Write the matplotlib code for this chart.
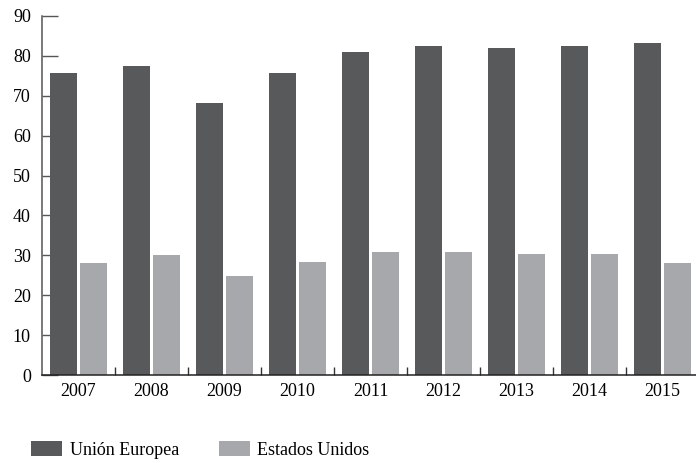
import numpy as np
import matplotlib
matplotlib.use("Agg")
import matplotlib.pyplot as plt

# datos
anios = ["2007", "2008", "2009", "2010", "2011", "2012", "2013", "2014", "2015"]
union_europea = [75.7, 77.5, 68.2, 75.7, 81.0, 82.5, 82.0, 82.5, 83.2]
estados_unidos = [28.0, 30.0, 24.8, 28.3, 30.8, 30.8, 30.3, 30.3, 28.0]

plt.rcParams["font.family"] = ["Liberation Serif", "DejaVu Serif"]

fig = plt.figure(figsize=(6.96, 4.63), dpi=100)
ax = fig.add_axes([42 / 696, 88 / 463, 657 / 696, 359 / 463])

x = np.arange(len(anios))
ancho = 27 / 73
desp = 15 / 73
ax.bar(x - desp, union_europea, ancho, color="#58595b", label="Unión Europea", zorder=1)
ax.bar(x + desp, estados_unidos, ancho, color="#a7a8ab", label="Estados Unidos", zorder=1)

ax.set_xlim(-0.5, 8.5)
ax.set_ylim(0, 90)
ax.set_yticks(range(0, 91, 10))
ax.set_axisbelow(True)

# ticks del eje x en los limites entre grupos, etiquetas centradas
ax.set_xticks(x[:-1] + 0.5)
ax.set_xticklabels([])
ax.set_xticks(x, minor=True)
ax.set_xticklabels(anios, minor=True)
ax.tick_params(axis="x", which="major", direction="in", length=6, width=1, color="#333333")
ax.tick_params(axis="x", which="minor", length=0, pad=6, labelsize=13)
ax.tick_params(axis="y", direction="in", length=11.5, width=1, color="#555555",
               pad=8, labelsize=13)

for s in ["top", "right"]:
    ax.spines[s].set_visible(False)
ax.spines["left"].set_color("#555555")
ax.spines["left"].set_linewidth(1.1)
ax.spines["bottom"].set_color("#222222")
ax.spines["bottom"].set_linewidth(1.1)

leg = ax.legend(loc="center left", bbox_to_anchor=(24 / 696, 13 / 463),
                bbox_transform=fig.transFigure, ncol=2, frameon=False,
                fontsize=13, handlelength=1.72, handleheight=0.9,
                handletextpad=0.42, columnspacing=2.2, borderaxespad=0)

fig.savefig("out.png", dpi=100)
